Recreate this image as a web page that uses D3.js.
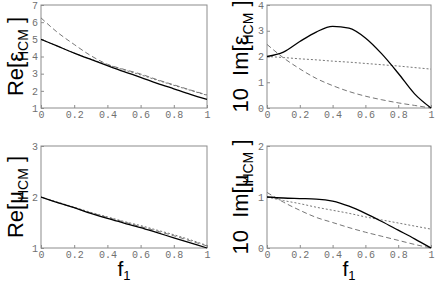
<!DOCTYPE html>
<html><head><meta charset="utf-8">
<script src="https://cdn.jsdelivr.net/npm/d3@7"></script>
<style>body{margin:0;background:#fff}svg{display:block}</style>
</head><body>
<script>
const f1 = [0,0.1,0.2,0.3,0.4,0.5,0.6,0.7,0.8,0.9,1];
const xTicks = [0,0.2,0.4,0.6,0.8,1];

const reEpsSolid  = [5.0,4.6,4.2,3.83,3.47,3.12,2.79,2.44,2.12,1.8,1.5];
const reEpsDashed = [6.25,5.4,4.7,4.05,3.55,3.25,2.98,2.65,2.35,2.05,1.76];
const reEpsDotted = [5.0,4.6,4.2,3.85,3.52,3.22,2.93,2.62,2.32,2.03,1.74];

const imEpsSolid  = [2.0,2.17,2.58,2.95,3.17,3.1,2.72,2.1,1.35,0.55,0.0];
const imEpsDotted = [2.0,1.96,1.91,1.87,1.82,1.78,1.73,1.68,1.63,1.57,1.51];
const imEpsDashed = [2.47,1.95,1.52,1.15,0.87,0.64,0.46,0.32,0.2,0.1,0.0];

const reMuSolid  = [2.0,1.89,1.79,1.68,1.58,1.49,1.4,1.3,1.2,1.1,1.0];
const reMuDotted = [2.0,1.9,1.8,1.7,1.61,1.52,1.44,1.35,1.26,1.16,1.05];
const reMuDashed = [2.0,1.89,1.79,1.69,1.6,1.51,1.42,1.33,1.24,1.14,1.04];

const imMuSolid  = [1.0,0.98,0.97,0.96,0.92,0.82,0.68,0.52,0.35,0.18,0.0];
const imMuDotted = [1.0,0.93,0.87,0.8,0.74,0.68,0.61,0.55,0.49,0.43,0.37];
const imMuDashed = [1.09,0.9,0.74,0.6,0.5,0.4,0.31,0.23,0.15,0.07,0.0];

const W = 436, H = 283;
const svg = d3.select("body").append("svg").attr("width",W).attr("height",H);

const panels = [
  {x0:41,x1:207,y0:5,y1:108,dom:[1,7],ticks:[1,2,3,4,5,6,7],solid:reEpsSolid,dashed:reEpsDashed,dotted:reEpsDotted,pre:"Re[",sym:"ε",lx:15,xl:false},
  {x0:267,x1:431,y0:5,y1:108,dom:[0,4],ticks:[0,1,2,3,4],solid:imEpsSolid,dashed:imEpsDashed,dotted:imEpsDotted,pre:"10\u00a0\u00a0Im[",sym:"ε",lx:240,xl:false},
  {x0:41,x1:207,y0:146,y1:248,dom:[1,3],ticks:[1,2,3],solid:reMuSolid,dashed:reMuDashed,dotted:reMuDotted,pre:"Re[",sym:"μ",lx:15,xl:true},
  {x0:267,x1:431,y0:146,y1:248,dom:[0,2],ticks:[0,1,2],solid:imMuSolid,dashed:imMuDashed,dotted:imMuDotted,pre:"10\u00a0\u00a0Im[",sym:"μ",lx:240,xl:true}
];

panels.forEach(p=>{
  const x = d3.scaleLinear().domain([0,1]).range([p.x0,p.x1]);
  const y = d3.scaleLinear().domain(p.dom).range([p.y1,p.y0]);
  const g = svg.append("g");
  g.append("rect").attr("x",p.x0).attr("y",p.y0).attr("width",p.x1-p.x0).attr("height",p.y1-p.y0)
    .attr("fill","none").attr("stroke","#8c8c8c").attr("stroke-width",1);
  const xa = g.append("g").attr("transform",`translate(0,${p.y1})`)
    .call(d3.axisBottom(x).tickValues(xTicks).tickSize(-3).tickPadding(3).tickFormat(d=>d===0||d===1?String(d):d3.format(".1f")(d)));
  const ya = g.append("g").attr("transform",`translate(${p.x0},0)`)
    .call(d3.axisLeft(y).tickValues(p.ticks).tickSize(-3).tickPadding(3).tickFormat(d3.format("d")));
  [xa,ya].forEach(a=>{
    a.select(".domain").remove();
    a.selectAll(".tick line").attr("stroke","#8c8c8c");
    a.selectAll(".tick text").attr("fill","#707070").style("font-family","'Liberation Mono','DejaVu Sans Mono',monospace").style("font-size","10px");
  });
  const line = d3.line().x((d,i)=>x(f1[i])).y(d=>y(d)).curve(d3.curveMonotoneX);
  const clip = "c"+p.x0+p.y0;
  g.append("clipPath").attr("id",clip).append("rect").attr("x",p.x0).attr("y",p.y0-1).attr("width",p.x1-p.x0+1).attr("height",p.y1-p.y0+2);
  const lg = g.append("g").attr("clip-path",`url(#${clip})`);
  lg.append("path").datum(p.dotted).attr("d",line).attr("fill","none").attr("stroke","#777").attr("stroke-width",1).attr("stroke-dasharray","2,2");
  lg.append("path").datum(p.dashed).attr("d",line).attr("fill","none").attr("stroke","#777").attr("stroke-width",1).attr("stroke-dasharray","5,3");
  lg.append("path").datum(p.solid).attr("d",line).attr("fill","none").attr("stroke","#000").attr("stroke-width",1.3);

  const cy = (p.y0+p.y1)/2;
  const t = svg.append("text").attr("transform",`translate(${p.lx+8},${cy}) rotate(-90)`)
    .attr("text-anchor","middle").style("font-family","'Liberation Sans',Arial,sans-serif").style("font-size","22px").attr("fill","#000");
  t.append("tspan").text(p.pre+p.sym);
  t.append("tspan").attr("dy",5).attr("dx",-9).style("font-size","14px").text("HCM");
  t.append("tspan").attr("dy",-5).text("\u00a0]");
  if(p.xl){
    const xt = svg.append("text").attr("x",(p.x0+p.x1)/2).attr("y",276).attr("text-anchor","middle")
      .style("font-family","'Liberation Sans',Arial,sans-serif").style("font-size","21px");
    xt.append("tspan").text("f");
    xt.append("tspan").attr("dy",4).style("font-size","13px").text("1");
  }
});
</script>
</body></html>
